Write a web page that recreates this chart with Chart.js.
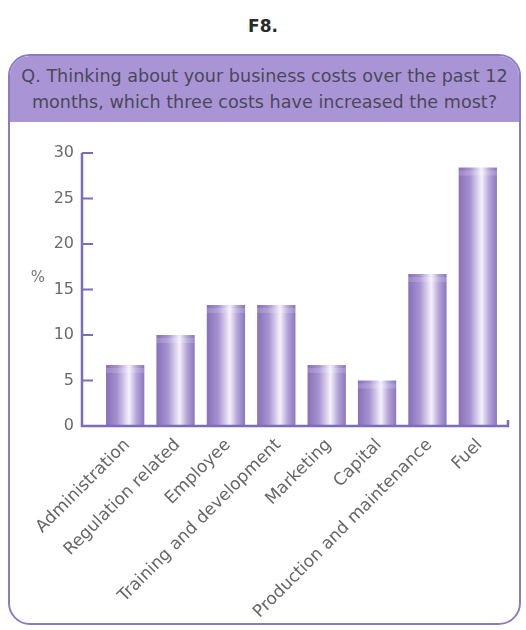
<!DOCTYPE html>
<html>
<head>
<meta charset="utf-8">
<script src="https://cdn.jsdelivr.net/npm/chart.js@4"></script>
<style>
  body { margin: 0; background: #fff; }
  #wrap { position: relative; width: 526px; height: 630px; overflow: hidden; }
  .fig {
    position: absolute; left: 0; top: 16px; width: 526px; text-align: center;
    font: bold 17px "DejaVu Sans", sans-serif; color: #2a2a2a;
  }
  .frame {
    position: absolute; left: 8px; top: 54px; width: 509px; height: 567px;
    border: 2.5px solid #8c7bc3; border-radius: 22px; overflow: hidden; background: #fff;
  }
  .head {
    height: 66px; background: #a995d6; color: #4b4858; text-align: center;
    font: 17.6px "DejaVu Sans", sans-serif; line-height: 26px; padding-top: 7px; box-sizing: border-box;
    white-space: nowrap;
  }
  #chart { position: absolute; left: 0; top: 0; }
</style>
</head>
<body>
<div id="wrap">
  <div class="fig">F8.</div>
  <div class="frame">
    <div class="head">Q. Thinking about your business costs over the past 12<br>months, which three costs have increased the most?</div>
  </div>
  <canvas id="chart" width="526" height="630"></canvas>
</div>
<script>
// cost categories and share of respondents (%)
const categories = ['Administration', 'Regulation related', 'Employee', 'Training and development',
  'Marketing', 'Capital', 'Production and maintenance', 'Fuel'];
const percentages = [6.7, 10, 13.3, 13.3, 6.7, 5, 16.7, 28.4];
const yTicks = [0, 5, 10, 15, 20, 25, 30];

const BAR_FRACTION = 0.76;
const AXIS_COLOR = '#7d6bbb';

// cylinder-like shading across each bar
function barFill(context) {
  const chart = context.chart;
  const area = chart.chartArea;
  if (!area) return '#9a86c8';
  const cx = chart.scales.x.getPixelForValue(context.dataIndex);
  const half = (area.right - area.left) / categories.length * BAR_FRACTION / 2;
  const g = chart.ctx.createLinearGradient(cx - half, 0, cx + half, 0);
  g.addColorStop(0, '#8670b9');
  g.addColorStop(0.3, '#a793d0');
  g.addColorStop(0.6, '#f5f1fb');
  g.addColorStop(0.8, '#b3a3d8');
  g.addColorStop(1, '#8a76bd');
  return g;
}

// axis lines sit a little left of the first bar, ticks point inward
const axisFrame = {
  id: 'axisFrame',
  afterDatasetsDraw(chart) {
    const ctx = chart.ctx;
    const area = chart.chartArea;
    const y = chart.scales.y;
    const x0 = area.left - 18;
    const x1 = area.right + 5;
    const yBottom = y.getPixelForValue(0);
    const yTop = y.getPixelForValue(yTicks[yTicks.length - 1]);

    // soft highlight band near the top of each bar
    const meta = chart.getDatasetMeta(0);
    ctx.save();
    meta.data.forEach(bar => {
      ctx.fillStyle = 'rgba(255,255,255,0.16)';
      ctx.fillRect(bar.x - bar.width / 2, bar.y + 3, bar.width, 5);
    });
    ctx.restore();

    ctx.save();
    ctx.strokeStyle = AXIS_COLOR;
    ctx.lineWidth = 2.5;
    ctx.beginPath();
    ctx.moveTo(x0, yTop);
    ctx.lineTo(x0, yBottom);
    ctx.lineTo(x1, yBottom);
    ctx.lineTo(x1, yBottom - 6);
    ctx.stroke();
    ctx.lineWidth = 2;
    yTicks.slice(1).forEach(v => {
      const py = y.getPixelForValue(v);
      ctx.beginPath();
      ctx.moveTo(x0, py);
      ctx.lineTo(x0 + 11, py);
      ctx.stroke();
    });
    ctx.fillStyle = '#777';
    ctx.font = '15px "DejaVu Sans", sans-serif';
    ctx.textAlign = 'center';
    ctx.textBaseline = 'middle';
    ctx.fillText('%', 38, y.getPixelForValue(16.2));
    ctx.restore();
  }
};

new Chart(document.getElementById('chart'), {
  type: 'bar',
  data: {
    labels: categories,
    datasets: [{
      data: percentages,
      backgroundColor: barFill,
      borderWidth: 0,
      barPercentage: BAR_FRACTION,
      categoryPercentage: 1
    }]
  },
  options: {
    responsive: false,
    animation: false,
    layout: { padding: { top: 153, left: 20, right: 23, bottom: 2 } },
    plugins: { legend: { display: false }, tooltip: { enabled: false } },
    scales: {
      x: {
        grid: { display: false, drawTicks: false },
        border: { display: false },
        afterFit: s => { s.height = 202; },
        ticks: {
          autoSkip: false,
          maxRotation: 45,
          minRotation: 45,
          padding: 9,
          labelOffset: 2,
          color: '#666',
          font: { family: 'DejaVu Sans', size: 17 }
        }
      },
      y: {
        min: 0,
        max: 30,
        grid: { display: false, drawTicks: false },
        border: { display: false },
        afterFit: s => { s.width = 80; },
        ticks: {
          stepSize: 5,
          padding: 26,
          color: '#6b6b6b',
          font: { family: 'DejaVu Sans', size: 16 }
        }
      }
    }
  },
  plugins: [axisFrame]
});
</script>
</body>
</html>
